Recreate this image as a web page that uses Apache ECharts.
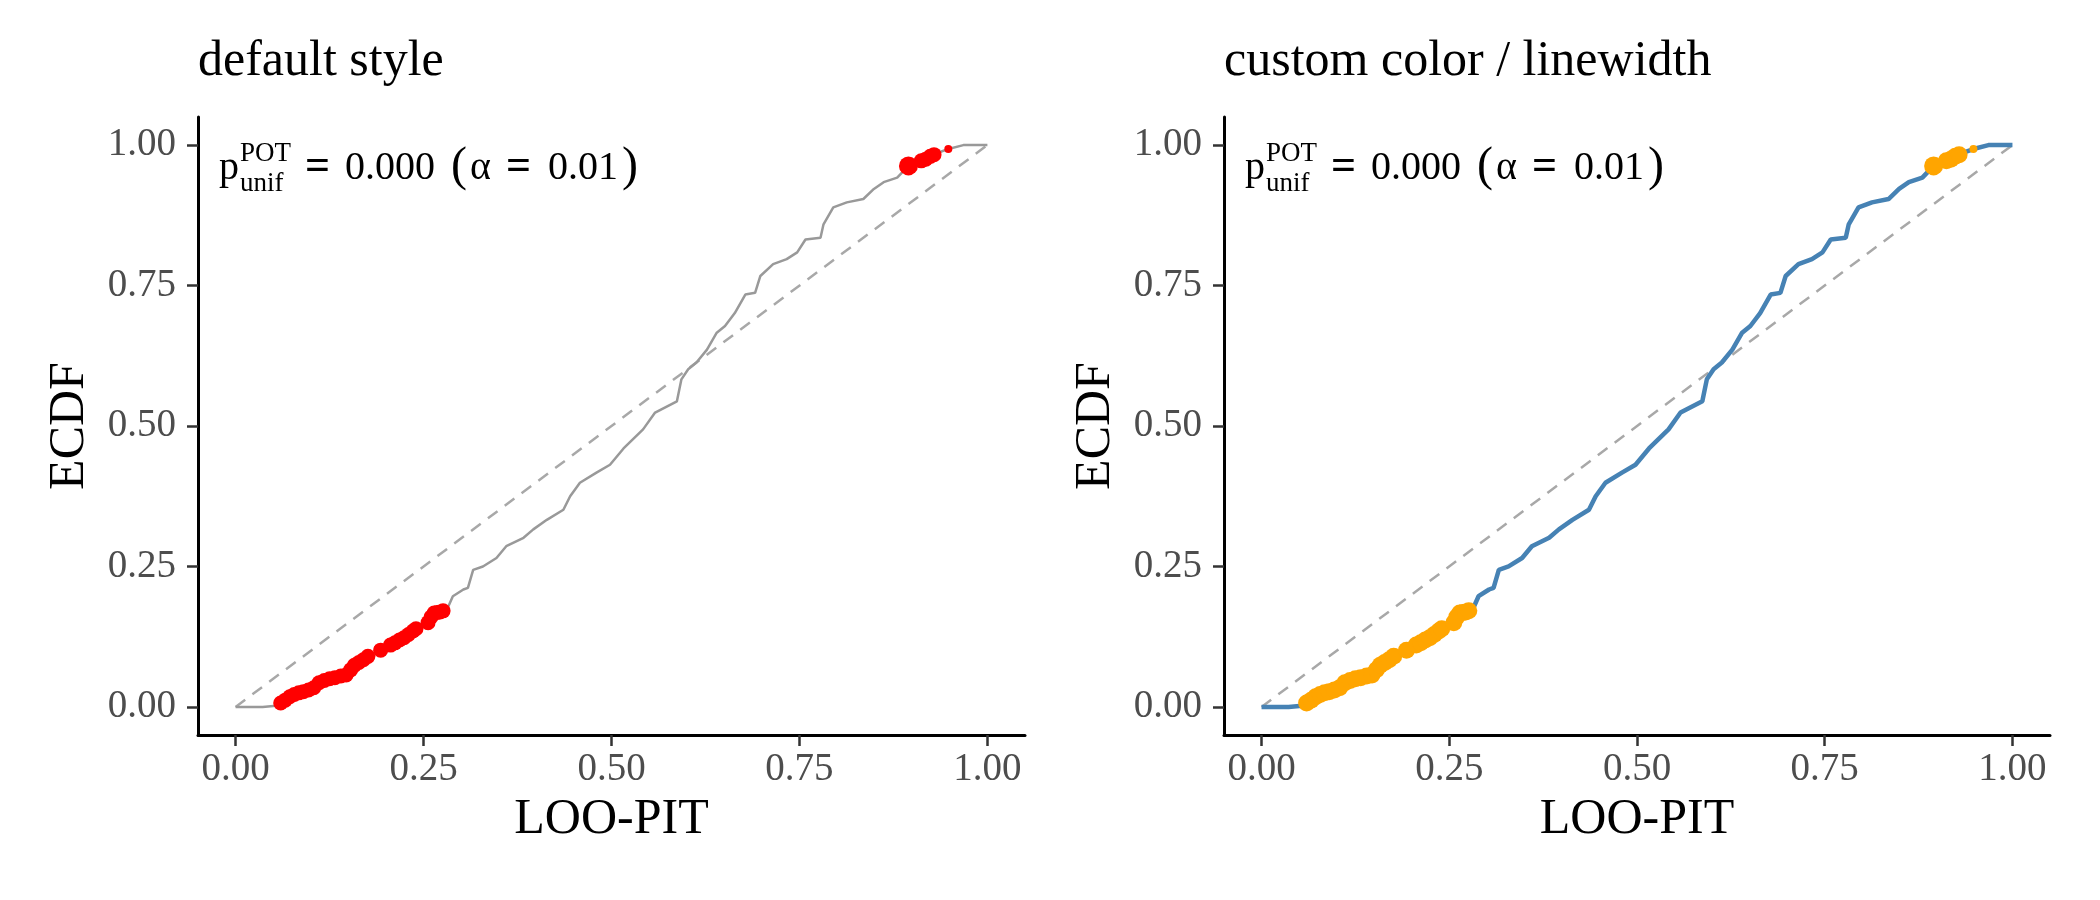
<!DOCTYPE html>
<html>
<head>
<meta charset="utf-8">
<title>LOO-PIT ECDF</title>
<script src="https://cdn.jsdelivr.net/npm/echarts@6/dist/echarts.min.js"></script>
<style>
  html, body { margin: 0; padding: 0; background: #fff; }
  #chart { width: 2100px; height: 900px; }
</style>
</head>
<body>
<div id="chart"></div>
<script>
// ECDF of the LOO-PIT values
var ecdfX = [0.000, 0.036, 0.037, 0.054, 0.059, 0.072, 0.081, 0.099, 0.112, 0.130,
             0.147, 0.156, 0.170, 0.178, 0.192, 0.209, 0.223, 0.238, 0.254, 0.263,
             0.281, 0.289, 0.303, 0.309, 0.316, 0.329, 0.347, 0.360, 0.383, 0.396,
             0.414, 0.436, 0.445, 0.458, 0.480, 0.498, 0.516, 0.542, 0.558, 0.587,
             0.593, 0.602, 0.613, 0.627, 0.640, 0.651, 0.664, 0.678, 0.691, 0.698,
             0.715, 0.733, 0.747, 0.758, 0.778, 0.782, 0.795, 0.813, 0.835, 0.849,
             0.862, 0.880, 0.895, 0.911, 0.929, 0.948, 0.968, 1.000]
var ecdfY = [0.000, 0.000, 0.002, 0.002, 0.007, 0.018, 0.024, 0.030, 0.045, 0.051,
             0.057, 0.072, 0.084, 0.093, 0.099, 0.112, 0.122, 0.137, 0.146, 0.167,
             0.173, 0.197, 0.209, 0.212, 0.244, 0.250, 0.265, 0.286, 0.301, 0.316,
             0.333, 0.351, 0.375, 0.399, 0.417, 0.431, 0.460, 0.494, 0.524, 0.544,
             0.583, 0.601, 0.613, 0.636, 0.666, 0.678, 0.701, 0.734, 0.737, 0.767,
             0.788, 0.797, 0.809, 0.832, 0.835, 0.859, 0.889, 0.898, 0.904, 0.922,
             0.934, 0.942, 0.963, 0.972, 0.984, 0.993, 1.000, 1.000]

// flagged points (POT test)
var flagX = [0.060, 0.066, 0.072, 0.078, 0.084, 0.090, 0.097, 0.104, 0.111, 0.118,
             0.125, 0.132, 0.140, 0.147, 0.153, 0.158, 0.164, 0.170, 0.176, 0.193,
             0.206, 0.212, 0.218, 0.224, 0.230, 0.236, 0.240, 0.256, 0.260, 0.264,
             0.268, 0.272, 0.276, 0.912, 0.918, 0.924, 0.929]
var flagY = [0.007, 0.012, 0.018, 0.022, 0.025, 0.027, 0.030, 0.034, 0.043, 0.047,
             0.050, 0.052, 0.055, 0.057, 0.066, 0.074, 0.079, 0.084, 0.090, 0.101,
             0.110, 0.114, 0.119, 0.123, 0.129, 0.135, 0.139, 0.150, 0.160, 0.167,
             0.168, 0.169, 0.171, 0.972, 0.975, 0.980, 0.983]
// tiny marks
var tinyX = [0.189, 0.948]
var tinyY = [0.103, 0.993]
// the largest flagged point
var bigX = [0.895]
var bigY = [0.963]

// uniform reference line
var refX = [0, 1]
var refY = [0, 1]

var ticks = [0, 0.25, 0.5, 0.75, 1]
var titles = ['default style', 'custom color / linewidth']
var xName = 'LOO-PIT'
var yName = 'ECDF'
// annotation pieces and their x offsets from the panel's left edge
var noteText = ['=', '0.000', '(', 'α', '=', '0.01', ')']
var noteOffset = [107, 147, 253, 272, 308, 350, 424]

var FONT = '"Liberation Serif", "DejaVu Serif", serif'

function zip (xs, ys) {
    return xs.map(function (x, i) { return [x, ys[i]] })
}

function txt (x, y, text, size, weight) {
    return {
        type: 'text', x: x, y: y,
        style: {
            text: text, fontSize: size, fontFamily: FONT, fontWeight: weight || 'normal',
            fill: '#000', align: 'left', verticalAlign: 'middle'
        }
    }
}

// panel geometry, pixels
var panels = [
    { left: 198, top: 117, width: 827, height: 618, line: '#999999', lineWidth: 2.5, point: '#FF0000', size: 15 },
    { left: 1224, top: 117, width: 826, height: 618, line: '#4682B4', lineWidth: 4.5, point: '#FFA500', size: 17 }
]

var option = {
    backgroundColor: '#ffffff',
    animation: false,
    grid: [],
    xAxis: [],
    yAxis: [],
    series: [],
    graphic: []
}

panels.forEach(function (p, i) {
    option.grid.push({ left: p.left, top: p.top, width: p.width, height: p.height, outerBoundsMode: 'none' })

    var fmt = function (v) { return v.toFixed(2) }
    function axis (name, gap, margin) {
        return {
            gridIndex: i,
            type: 'value',
            min: -0.05,
            max: 1.05,
            name: name,
            nameGap: gap,
            nameLocation: 'middle',
            nameTextStyle: { fontFamily: FONT, fontSize: 50, color: '#000' },
            axisLine: { show: true, onZero: false, lineStyle: { color: '#000', width: 3 } },
            axisTick: { show: true, length: 11, customValues: ticks, lineStyle: { color: '#333', width: 2.5 } },
            splitLine: { show: false },
            axisLabel: {
                customValues: ticks,
                margin: margin,
                fontFamily: FONT,
                fontSize: 39,
                color: '#4D4D4D',
                formatter: fmt
            }
        }
    }
    option.xAxis.push(axis(xName, 60, 15))
    option.yAxis.push(axis(yName, 103, 22))

    option.series.push({
        type: 'line', xAxisIndex: i, yAxisIndex: i,
        data: zip(refX, refY), symbol: 'none', silent: true,
        lineStyle: { color: '#A8A8A8', width: 2.5, type: [12, 9] }, z: 2
    })
    option.series.push({
        type: 'line', xAxisIndex: i, yAxisIndex: i,
        data: zip(ecdfX, ecdfY), symbol: 'none',
        lineStyle: { color: p.line, width: p.lineWidth }, z: 3
    })
    option.series.push({
        type: 'scatter', xAxisIndex: i, yAxisIndex: i,
        data: zip(flagX, flagY), symbolSize: p.size,
        itemStyle: { color: p.point, opacity: 1 }, z: 4
    })
    option.series.push({
        type: 'scatter', xAxisIndex: i, yAxisIndex: i,
        data: zip(tinyX, tinyY), symbolSize: 8,
        itemStyle: { color: p.point, opacity: 1 }, z: 4
    })
    option.series.push({
        type: 'scatter', xAxisIndex: i, yAxisIndex: i,
        data: zip(bigX, bigY), symbolSize: 19,
        itemStyle: { color: p.point, opacity: 1 }, z: 4
    })

    // panel title
    option.graphic.push(txt(p.left, 62, titles[i], 50))

    // p-value annotation: p, superscript, subscript, then the rest
    var ax = p.left + 21
    option.graphic.push(txt(ax, 168, 'p', 40))
    option.graphic.push(txt(ax + 21, 154, 'POT', 27))
    option.graphic.push(txt(ax + 21, 184, 'unif', 27))
    noteText.forEach(function (t, k) {
        var paren = t === '(' || t === ')'
        var eq = t === '='
        option.graphic.push(txt(p.left + noteOffset[k], paren ? 167 : 168, t,
            paren ? 48 : (eq ? 44 : 40), eq ? 'bold' : 'normal'))
    })
})

var chart = echarts.init(document.getElementById('chart'), null, { renderer: 'canvas' })
chart.setOption(option)
</script>
</body>
</html>
